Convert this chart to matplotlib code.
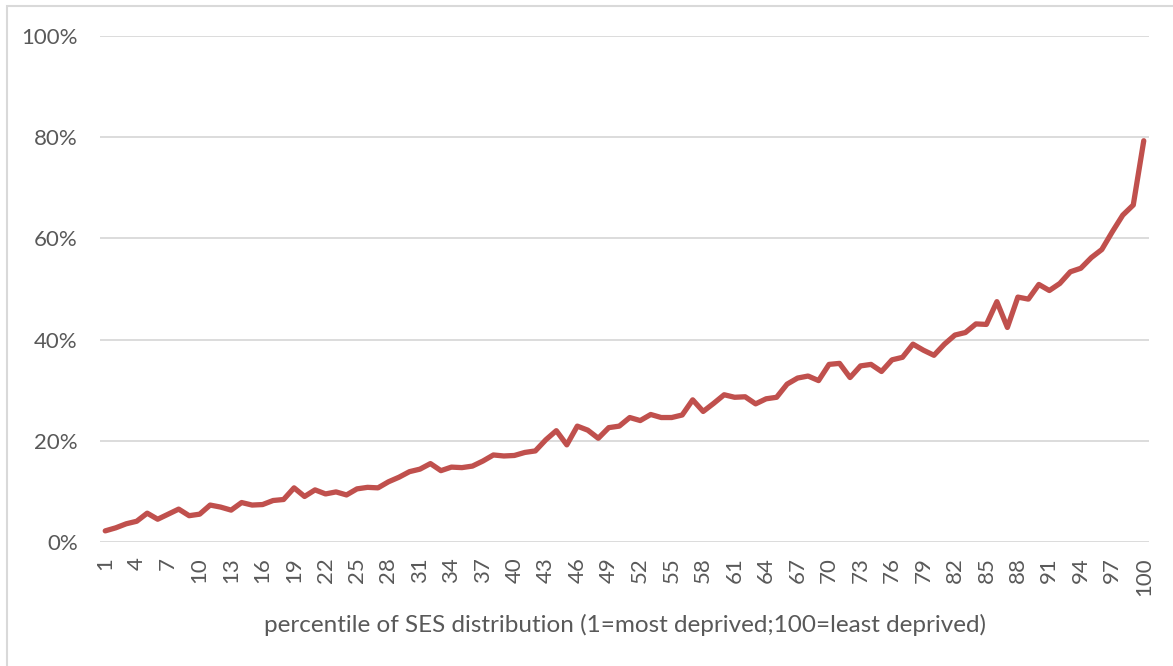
import matplotlib
matplotlib.use("Agg")
import matplotlib.pyplot as plt
from matplotlib.patches import Rectangle

# --- data ---
percentiles = list(range(1, 101))
share = [
    2.2, 2.8, 3.6, 4.1, 5.7, 4.5, 5.5, 6.5, 5.2, 5.5,
    7.3, 6.9, 6.3, 7.8, 7.3, 7.4, 8.2, 8.4, 10.7, 9.0,
    10.3, 9.5, 9.9, 9.3, 10.5, 10.8, 10.7, 11.9, 12.8, 13.9,
    14.4, 15.5, 14.1, 14.8, 14.7, 15.0, 16.0, 17.2, 17.0, 17.1,
    17.7, 18.0, 20.2, 22.0, 19.2, 22.9, 22.1, 20.5, 22.6, 22.9,
    24.6, 24.0, 25.2, 24.6, 24.6, 25.1, 28.1, 25.8, 27.4, 29.1,
    28.6, 28.7, 27.3, 28.3, 28.6, 31.2, 32.4, 32.8, 31.9, 35.1,
    35.3, 32.5, 34.8, 35.1, 33.7, 36.0, 36.5, 39.1, 37.9, 36.9,
    39.1, 40.9, 41.4, 43.1, 43.0, 47.5, 42.4, 48.4, 48.0, 50.9,
    49.7, 51.1, 53.4, 54.1, 56.2, 57.8, 61.3, 64.6, 66.6, 79.3,
]
tick_labels = [str(p) for p in range(1, 101, 3)]
y_ticks = [0, 20, 40, 60, 80, 100]

text_color = "#595959"
grid_color = "#D9D9D9"
line_color = "#C0504D"

plt.rcParams['font.family'] = ['Lato', 'DejaVu Sans']

W, H = 1173, 666
fig = plt.figure(figsize=(W / 100, H / 100), dpi=100)

# chart border (Excel style), runs off the right/bottom edge
fig.patches.append(Rectangle((7 / W, -0.05), 1.2, 1 - 6 / H + 0.05,
                             transform=fig.transFigure, fill=False,
                             edgecolor=grid_color, linewidth=1.5))

ax = fig.add_axes([100 / W, 1 - 542 / H, 1049 / W, 506 / H])
ax.plot(percentiles, share, color=line_color, linewidth=3.8,
        solid_joinstyle='round', solid_capstyle='round', clip_on=False)

ax.set_xlim(0.5, 100.5)
ax.set_ylim(0, 100)
ax.set_yticks(y_ticks)
ax.set_yticklabels([f"{v}%" for v in y_ticks])
ax.set_xticks(range(1, 101, 3))
ax.set_xticklabels(tick_labels, rotation=90)

ax.grid(axis='y', color=grid_color, linewidth=1.3)
ax.set_axisbelow(True)
for s in ax.spines.values():
    s.set_visible(False)
ax.tick_params(axis='both', length=0, colors=text_color, labelsize=16)
ax.tick_params(axis='y', pad=16)
ax.tick_params(axis='x', pad=11)

ax.set_xlabel("percentile of SES distribution (1=most deprived;100=least deprived)",
              fontsize=17.5, color=text_color, labelpad=13)

fig.savefig("out.png", dpi=100)
